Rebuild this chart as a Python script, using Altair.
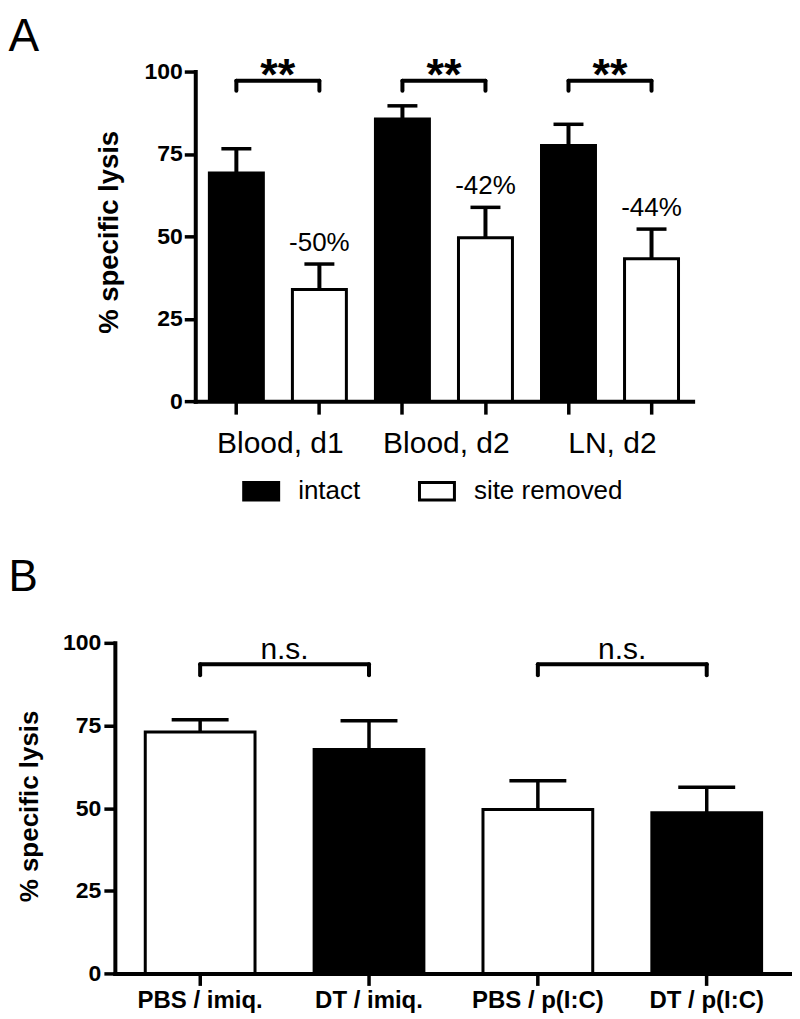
import altair as alt
import pandas as pd

FONT = "Liberation Sans"

# ---------------- Panel A data ----------------
a_groups = ["Blood, d1", "Blood, d1", "Blood, d2", "Blood, d2", "LN, d2", "LN, d2"]
a_conditions = ["intact", "site removed", "intact", "site removed", "intact", "site removed"]
a_means = [69.2, 33.9, 85.6, 49.6, 77.6, 43.2]
a_err_top = [76.6, 41.6, 89.6, 58.8, 84.0, 52.2]
a_change = ["", "-50%", "", "-42%", "", "-44%"]

a_sig_from = ["Blood, d1|intact", "Blood, d2|intact", "LN, d2|intact"]
a_sig_to = ["Blood, d1|site removed", "Blood, d2|site removed", "LN, d2|site removed"]
a_sig_text = ["**", "**", "**"]
a_sig_top = [97.2, 97.2, 97.2]
a_sig_bottom = [94.2, 94.2, 94.2]

# ---------------- Panel B data ----------------
b_categories = ["PBS / imiq.", "DT / imiq.", "PBS / p(I:C)", "DT / p(I:C)"]
b_treatment = ["PBS", "DT", "PBS", "DT"]
b_means = [73.0, 67.7, 49.6, 48.6]
b_err_top = [76.7, 76.4, 58.3, 56.3]

b_sig_from = ["PBS / imiq.", "PBS / p(I:C)"]
b_sig_to = ["DT / imiq.", "DT / p(I:C)"]
b_sig_text = ["n.s.", "n.s."]
b_sig_top = [93.5, 93.5]
b_sig_bottom = [90.2, 90.2]

y_ticks = [0, 25, 50, 75, 100]

# ---------------- tables ----------------
a_keys = [g + "|" + c for g, c in zip(a_groups, a_conditions)]
dfA = pd.DataFrame({"key": a_keys, "group": a_groups, "condition": a_conditions,
                    "mean": a_means, "err": a_err_top, "change": a_change})
sigA = pd.DataFrame({"from": a_sig_from, "to": a_sig_to, "text": a_sig_text,
                     "top": a_sig_top, "bottom": a_sig_bottom})
endsA = pd.DataFrame({"key": a_sig_from + a_sig_to, "top": a_sig_top + a_sig_top,
                      "bottom": a_sig_bottom + a_sig_bottom})

dfB = pd.DataFrame({"key": b_categories, "treatment": b_treatment,
                    "mean": b_means, "err": b_err_top})
sigB = pd.DataFrame({"from": b_sig_from, "to": b_sig_to, "text": b_sig_text,
                     "top": b_sig_top, "bottom": b_sig_bottom})
endsB = pd.DataFrame({"key": b_sig_from + b_sig_to, "top": b_sig_top + b_sig_top,
                      "bottom": b_sig_bottom + b_sig_bottom})

# panel A sits further right than panel B: its plot starts SHIFT px into a wider frame
SHIFT = 80.5
WIDTH_A = 498
WIDTH_B = 678


def y_axis(title_size, title_x, title_y, label_pad, offset):
    return alt.Axis(values=y_ticks, title="% specific lysis", titleFont=FONT,
                    titleFontSize=title_size, titleFontWeight="bold", titleColor="black",
                    titleX=title_x, titleY=title_y, titleAngle=-90, titleAlign="center",
                    titleBaseline="alphabetic",
                    labelFont=FONT, labelFontSize=23, labelFontWeight="bold",
                    labelColor="black", labelPadding=label_pad, tickSize=11,
                    tickWidth=3.5, tickColor="black", domainColor="black",
                    domainWidth=4, domainCap="square", grid=False, offset=offset)


y_scale = alt.Scale(domain=[0, 100], nice=False, zero=True)

# ---------------- Panel A ----------------
xA_scale = alt.Scale(domain=a_keys, paddingInner=0.35, paddingOuter=0.17,
                     range=[SHIFT, SHIFT + WIDTH_A])
xA_axis = alt.Axis(title=None, labelAngle=0, labelOverlap=False,
                   labelExpr="indexof(datum.value, '|intact') >= 0 ? replace(datum.value, '|intact', '') : ''",
                   labelOffset=44, labelFont=FONT, labelFontSize=30, labelColor="black",
                   labelPadding=14.5, tickSize=13, tickWidth=3.5, tickColor="black",
                   domainColor="black", domainWidth=4, domainCap="square", grid=False)
yA_axis = y_axis(27.5, -77.5, 160.5, 2, -SHIFT)


def xa(field):
    return alt.X(field + ":N", scale=xA_scale, axis=xA_axis)


def ya(field):
    return alt.Y(field + ":Q", scale=y_scale, axis=yA_axis)


barsA = alt.Chart(dfA).mark_bar(stroke="black", strokeWidth=3, opacity=1).encode(
    x=xa("key"), y=ya("mean"),
    fill=alt.Fill("condition:N",
                  scale=alt.Scale(domain=["intact", "site removed"], range=["black", "white"]),
                  legend=alt.Legend(orient="none", legendX=SHIFT + 47, legendY=401,
                                    direction="horizontal", title=None,
                                    symbolType="M-1,-0.5H1V0.5H-1Z", symbolSize=1225,
                                    symbolStrokeColor="black", symbolStrokeWidth=3,
                                    symbolOpacity=1, labelFont=FONT, labelFontSize=26,
                                    labelColor="black", labelOffset=18,
                                    columnPadding=52, padding=0)))
errA = alt.Chart(dfA).mark_rule(color="black", strokeWidth=4).encode(
    x=xa("key"), y=ya("mean"), y2="err:Q")
capA = alt.Chart(dfA).mark_tick(color="black", size=30, thickness=3.5, opacity=1).encode(
    x=xa("key"), y=ya("err"))
pctA = alt.Chart(dfA).transform_filter("datum.change != ''").mark_text(
    font=FONT, fontSize=26, color="black", align="center", baseline="alphabetic",
    dy=-13.5).encode(x=xa("key"), y=ya("err"), text="change:N")
brH_A = alt.Chart(sigA).mark_rule(color="black", strokeWidth=4, strokeCap="round").encode(
    x=xa("from"), x2="to:N", y=ya("top"))
brV_A = alt.Chart(endsA).mark_rule(color="black", strokeWidth=4, strokeCap="round").encode(
    x=xa("key"), y=ya("bottom"), y2="top:Q")
sigTxtA = alt.Chart(sigA).mark_text(font=FONT, fontSize=45, fontWeight="bold", color="black",
                                    align="center", baseline="alphabetic", dx=41.5, dy=9).encode(
    x=xa("from"), y=ya("top"), text="text:N")
letterA = alt.Chart(pd.DataFrame({"t": ["A"]})).mark_text(
    x=SHIFT - 187, y=-21, align="left", baseline="alphabetic", font=FONT, fontSize=46,
    color="black").encode(text="t:N")

chartA = alt.layer(barsA, errA, capA, pctA, brH_A, brV_A, sigTxtA, letterA).properties(
    width=SHIFT + WIDTH_A, height=330)

# ---------------- Panel B ----------------
xB_scale = alt.Scale(domain=b_categories, paddingInner=0.35, paddingOuter=0.18)
xB_axis = alt.Axis(title=None, labelAngle=0, labelOverlap=False, labelFont=FONT,
                   labelFontSize=24, labelFontWeight="bold", labelColor="black",
                   labelPadding=3, tickSize=12, tickWidth=3.5, tickColor="black",
                   domainColor="black", domainWidth=4, domainCap="square", grid=False)
yB_axis = y_axis(26, -77.7, 163.3, 3, 0)


def xb(field):
    return alt.X(field + ":N", scale=xB_scale, axis=xB_axis)


def yb(field):
    return alt.Y(field + ":Q", scale=y_scale, axis=yB_axis)


barsB = alt.Chart(dfB).mark_bar(stroke="black", strokeWidth=3, opacity=1).encode(
    x=xb("key"), y=yb("mean"),
    fill=alt.Fill("treatment:N",
                  scale=alt.Scale(domain=["PBS", "DT"], range=["white", "black"]),
                  legend=None))
errB = alt.Chart(dfB).mark_rule(color="black", strokeWidth=3.5).encode(
    x=xb("key"), y=yb("mean"), y2="err:Q")
capB = alt.Chart(dfB).mark_tick(color="black", size=57, thickness=3.5, opacity=1).encode(
    x=xb("key"), y=yb("err"))
brH_B = alt.Chart(sigB).mark_rule(color="black", strokeWidth=4, strokeCap="round").encode(
    x=xb("from"), x2="to:N", y=yb("top"))
brV_B = alt.Chart(endsB).mark_rule(color="black", strokeWidth=4, strokeCap="round").encode(
    x=xb("key"), y=yb("bottom"), y2="top:Q")
sigTxtB = alt.Chart(sigB).mark_text(font=FONT, fontSize=30, color="black", align="center",
                                    baseline="alphabetic", dx=84.5, dy=-5).encode(
    x=xb("from"), y=yb("top"), text="text:N")
letterB = alt.Chart(pd.DataFrame({"t": ["B"]})).mark_text(
    x=-106.5, y=-51.7, align="left", baseline="alphabetic", font=FONT, fontSize=44,
    color="black").encode(text="t:N")

chartB = alt.layer(barsB, errB, capB, brH_B, brV_B, sigTxtB, letterB).properties(
    width=WIDTH_B, height=331)

chart = alt.vconcat(chartA, chartB, spacing=50,
                    padding={"top": 5, "left": 0, "right": 0, "bottom": 0}).resolve_scale(
    fill="independent", x="independent", y="independent").configure(
    font=FONT).configure_view(stroke=None)

chart.save("out.html", embed_options={"renderer": "svg", "actions": False})
